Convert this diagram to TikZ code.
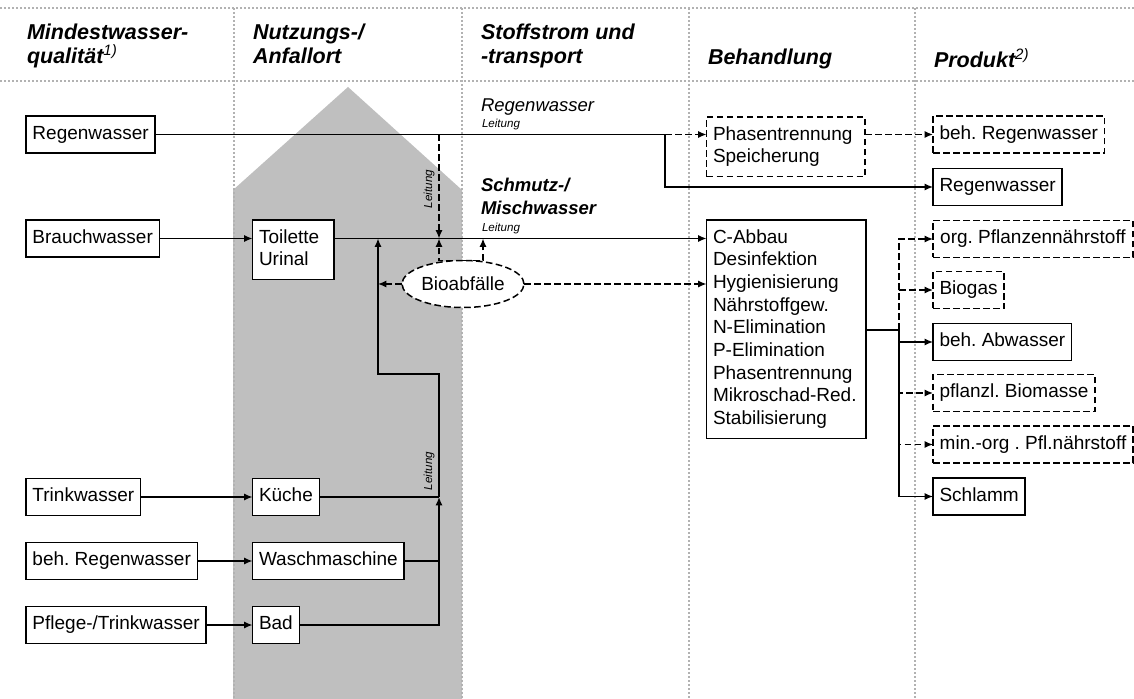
\documentclass[tikz,border=0pt]{standalone}
\usepackage{fontspec}
\setmainfont{Liberation Sans}
\usetikzlibrary{arrows.meta,shapes.geometric}
\frenchspacing

\newcommand{\boxfont}{\fontsize{9.5}{11.35}\selectfont}
\newcommand{\headfont}{\fontsize{10.75}{12}\selectfont\bfseries\itshape}
\newcommand{\leitfont}{\fontsize{5.8}{7}\selectfont\itshape}

\begin{document}
\begin{tikzpicture}[x=0.5pt,y=-0.5pt,line width=0.75pt,>={Latex[length=4.2pt,width=3.6pt]},
  every node/.style={inner sep=0pt, outer sep=0pt},
  box/.style={draw, fill=white, font=\boxfont, align=left, anchor=west, inner xsep=3.25pt, inner ysep=3.575pt, execute at begin node=\strut, execute at end node=\strut},
  dbox/.style={box, dash pattern=on 3.3pt off 1.7pt},
  dline/.style={dash pattern=on 3.3pt off 1.7pt},
  head/.style={font=\headfont, align=left, anchor=north west, execute at begin node=\strut},
  lbl/.style={font=\fontsize{9.25}{11.35}\selectfont\itshape, anchor=base west},
  leit/.style={font=\leitfont},
  sep/.style={black!30, line width=1.2pt, dash pattern=on 1pt off 1pt}]
\useasboundingbox (0,0) rectangle (1134,699);

\fill[black!25] (233,190) -- (348,87) -- (462,190) -- (462,699) -- (233,699) -- cycle;

\draw[sep] (0,8) -- (1134,8);
\draw[sep] (0,81) -- (1134,81);
\foreach \x in {234,462,689,915}
  \draw[sep] (\x,8) -- (\x,699);

\node[head] (h1) at (27,24.2) {Mindestwasser-\\qualität\textsuperscript{\mdseries 1)}};
\node[head] (h2) at (253,24.2) {Nutzungs-/\\Anfallort};
\node[head] (h3) at (481,24.2) {Stoffstrom und\\-transport};
\node[head] (h4) at (708,48.2) {Behandlung};
\node[head] (h5) at (934,48.2) {Produkt\textsuperscript{\mdseries 2)}};

\node[box] (regen) at (26,134.5) {Regenwasser};
\node[box] (brauch) at (26,238.5) {Brauchwasser};
\node[box] (trink) at (26,497) {Trinkwasser};
\node[box] (behregen) at (26,561) {beh. Regenwasser};
\node[box] (pflege) at (26,625) {Pflege-/Trinkwasser};

\node[box, anchor=north west, text width=34.25pt] (toilette) at (252.5,220) {Toilette\\Urinal};
\node[box] (kueche) at (252.5,497) {Küche};
\node[box] (wasch) at (252.5,561) {Waschmaschine};
\node[box] (bad) at (252.5,625) {Bad};

\node[lbl] (lregen) at (481,112) {Regenwasser};
\node[leit, anchor=base west] (lleit1) at (482,128) {Leitung};
\node[font=\fontsize{9.25}{11.35}\selectfont\bfseries\itshape, align=left, anchor=north west, execute at begin node=\strut] (lschmutz) at (481,178.1) {Schmutz-/\\Mischwasser};
\node[leit, anchor=base west] (lleit2) at (482,231.5) {Leitung};
\node[leit, rotate=90] (lleit3) at (429,189) {Leitung};
\node[leit, rotate=90] (lleit4) at (429,471) {Leitung};

\node[ellipse, draw, fill=white, dash pattern=on 3.3pt off 1.7pt, minimum width=61pt, minimum height=23.5pt, font=\boxfont] (bio) at (463,284) {Bioabfälle};

\node[dbox, anchor=north west, text width=72.75pt] (phasen) at (706.5,117) {Phasentrennung\\Speicherung};
\node[box, anchor=north west, text width=73.25pt] (abbau) at (706.5,220) {C-Abbau\\Desinfektion\\Hygienisierung\\Nährstoffgew.\\N-Elimination\\P-Elimination\\Phasentrennung\\Mikroschad-Red.\\Stabilisierung};

\node[dbox] (behregenP) at (933,134.5) {beh. Regenwasser};
\node[box] (regenP) at (933,187) {Regenwasser};
\node[dbox, minimum width=100pt] (orgP) at (933,239) {org. Pflanzennährstoff};
\node[dbox] (biogas) at (933,290) {Biogas};
\node[box] (behabw) at (933,342) {beh. Abwasser};
\node[dbox] (biomasse) at (933,393) {pflanzl. Biomasse};
\node[dbox, minimum width=100pt] (minorg) at (933,444.5) {min.-org . Pfl.nährstoff};
\node[box] (schlamm) at (933,496.5) {Schlamm};

\coordinate (rsplit) at (665,134.5);
\coordinate (rdrop) at (439,134.5);
\coordinate (tjoin) at (439,238.5);
\coordinate (bjoin) at (483,238.5);
\coordinate (kjoin) at (439,497);
\coordinate (kstep) at (378,374);
\coordinate (ajoin) at (899,330);

\draw (regen) -- (rsplit);
\draw[dline,->] (rsplit) -- (phasen.west |- rsplit);
\draw[->] (rsplit) |- (regenP);
\draw[dline,->] (phasen.east |- behregenP) -- (behregenP);

\draw[->] (brauch) -- (toilette.west |- brauch);
\draw[->] (toilette.east |- brauch) -- (abbau.west |- brauch);
\draw[dline,->] (rdrop) -- (tjoin);
\draw[dline,->] (bio.north) -| (tjoin);
\draw[dline,->] (bio.north) -| (bjoin);
\draw[dline,->] (bio.west) -- (bio.west -| kstep);
\draw[dline,->] (bio.east) -- (abbau.west |- bio);

\draw[->] (trink) -- (kueche);
\draw[->] (behregen) -- (wasch);
\draw[->] (pflege) -- (bad);
\draw (kueche) -- (kjoin);
\draw (wasch) -- (wasch -| kjoin);
\draw[->] (bad) -| (kjoin);
\draw[->] (kjoin) |- (kstep) -- (kstep |- brauch);

\draw (abbau.east |- ajoin) -- (ajoin);
\foreach \p in {behabw,schlamm}
  \draw[->] (ajoin) |- (\p);
\foreach \p in {orgP,biogas,biomasse,minorg}
  \draw[dline,->] (ajoin) |- (\p);
\end{tikzpicture}
\end{document}
